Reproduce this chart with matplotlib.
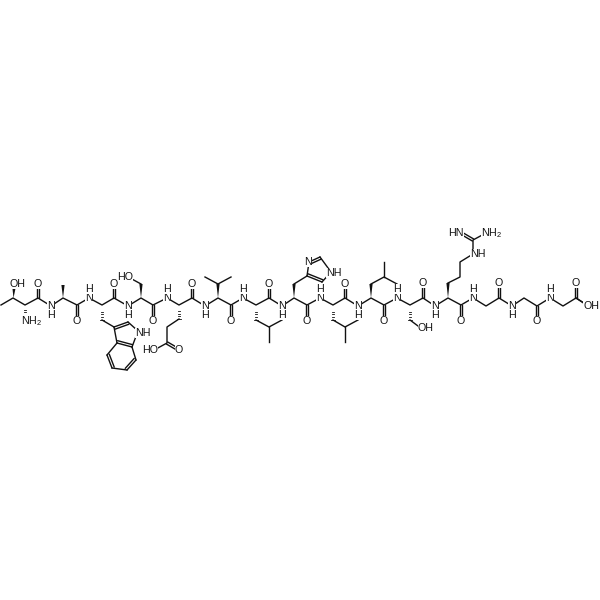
import numpy as np
import matplotlib
matplotlib.use("Agg")
import matplotlib.pyplot as plt
from matplotlib.patches import Polygon

plt.rcParams["font.family"] = ["Liberation Sans", "DejaVu Sans"]
plt.rcParams["mathtext.default"] = "regular"

# peptide backbone, left to right
BACKBONE_X = [1, 13, 25, 38, 51, 63, 77, 89, 102, 114, 128, 141, 153, 167, 179, 192,
              205, 218, 231, 243, 256, 269, 282, 294, 307, 320, 333, 345, 358, 371,
              384, 397, 410, 423, 435, 448, 461, 473, 486, 499, 512, 524, 537, 550,
              563, 576, 588]
BACKBONE_Y = [305, 298, 305, 298, 306, 298, 305, 298, 305, 298, 306, 298, 305, 298, 305, 298,
              306, 298, 305, 298, 305, 298, 306, 298, 305, 298, 305, 298, 306, 298,
              305, 298, 305, 298, 306, 298, 305, 298, 306, 298, 306, 298, 306, 298,
              306, 298, 306]

# C=O: carbon position and oxygen y
CARBONYL_X = [38, 77, 114, 153, 192, 231, 269, 307, 345, 384, 423, 461, 499, 537, 576]
CARBONYL_Y = [298, 305, 298, 305, 298, 305, 298, 305, 298, 305, 298, 305, 298, 306, 298]
OXYGEN_Y = [284, 321, 284, 321, 284, 321, 284, 321, 284, 321, 283, 321, 283, 321, 283]

# amide N labels: x, y, H above (-1) or below (+1)
AMIDE_X = [51, 89, 128, 167, 205, 243, 282, 320, 358, 397, 435, 473, 512, 550]
AMIDE_Y = [306, 298, 306, 298, 306, 298, 306, 298, 306, 298, 306, 298, 306, 298]
AMIDE_H = [1, -1, 1, -1, 1, -1, 1, -1, 1, -1, 1, -1, 1, -1]

# plain single bonds in side chains
SIDE_CHAINS = [
    [(102, 320), (114, 327)],
    [(141, 284), (130, 278)],
    [(179, 319), (167, 327), (167, 343), (156, 349)],
    [(205, 277), (218, 284), (231, 277)],
    [(282, 320), (269, 327), (256, 320)],
    [(269, 327), (269, 342)],
    [(294, 284), (307, 276)],
    [(358, 320), (345, 327), (333, 320)],
    [(345, 327), (345, 342)],
    [(371, 284), (384, 277), (397, 284)],
    [(384, 277), (384, 262)],
    [(410, 320), (418, 326)],
    [(448, 283), (460, 277), (460, 262), (473, 254), (473, 240), (486, 233)],
    [(576, 298), (584, 303)],
    # imidazole
    [(307, 276), (309, 262)],
    [(320, 257), (331, 272), (322, 282)],
    # indole
    [(114, 327), (117, 343)],
    [(128, 322), (138, 331), (132, 347)],
    [(117, 343), (107, 355)],
    [(112, 368), (127, 370)],
    [(136, 360), (132, 347)],
]

# double bonds: start, end, and which way the second line sits
DOUBLE_BONDS = [
    [(167, 343), (179, 350), 0],
    [(473, 240), (461, 233), 0],
    # imidazole
    [(309, 262), (320, 257), 1],
    [(307, 276), (322, 282), -1],
    # indole
    [(114, 327), (128, 322), 1],
    [(117, 343), (132, 347), -1],
    [(107, 355), (112, 368), -1],
    [(127, 370), (136, 360), -1],
]

WEDGES = [[(13.5, 298), (14, 288)], [(63, 298), (63, 285)], [(141, 298), (141, 284)],
          [(218, 298), (218, 284)], [(294, 298), (294, 284)], [(371, 298), (371, 284)],
          [(448, 298), (448, 283)]]
HASHES = [[(25, 305), (25, 316)], [(102, 305), (102, 320)], [(179, 305), (179, 319)],
          [(256, 305), (256, 320)], [(333, 305), (333, 320)], [(410, 305), (410, 320)]]

LABELS = [("OH", 17, 284), ("NH$_2$", 32, 321), ("HO", 125, 277), ("HO", 150, 350),
          ("O", 179, 350), ("N", 308, 262), ("NH", 334, 273), ("OH", 426, 328),
          ("NH", 478, 254), ("HN", 456, 233), ("NH$_2$", 492, 233), ("OH", 591, 306),
          ("NH", 143, 333)]

LW = 1.0
FONT = 7.7

fig = plt.figure(figsize=(6, 6), dpi=100)
ax = fig.add_axes([0, 0, 1, 1])
ax.set_xlim(0, 600)
ax.set_ylim(600, 0)
ax.axis("off")


def label(s, x, y):
    ax.text(x, y, s, ha="center", va="center", fontsize=FONT, color="#111111", zorder=5,
            bbox=dict(facecolor="white", edgecolor="none", pad=0.2))


def bond(a, b, offset=0.0):
    a, b = np.array(a, float), np.array(b, float)
    d = (b - a) / np.hypot(*(b - a))
    n = np.array([-d[1], d[0]]) * offset
    ax.plot([a[0] + n[0], b[0] + n[0]], [a[1] + n[1], b[1] + n[1]],
            color="#111111", lw=LW, solid_capstyle="round", zorder=2)


ax.plot(BACKBONE_X, BACKBONE_Y, color="#111111", lw=LW, solid_joinstyle="round", zorder=2)

for chain in SIDE_CHAINS:
    xs, ys = zip(*chain)
    ax.plot(xs, ys, color="#111111", lw=LW, solid_joinstyle="round", zorder=2)

for a, b, side in DOUBLE_BONDS:
    if side == 0:
        bond(a, b, 1.2)
        bond(a, b, -1.2)
    else:
        bond(a, b)
        bond(a, b, 2.4 * side)

for a, b in WEDGES:
    a, b = np.array(a, float), np.array(b, float)
    d = (b - a) / np.hypot(*(b - a))
    n = np.array([-d[1], d[0]]) * 1.6
    ax.add_patch(Polygon([a, b + n, b - n], closed=True, color="#111111", lw=0, zorder=3))

for a, b in HASHES:
    a, b = np.array(a, float), np.array(b, float)
    d = (b - a) / np.hypot(*(b - a))
    n = np.array([-d[1], d[0]])
    for t in np.linspace(0.08, 1, 6):
        p = a + (b - a) * t
        w = 1.8 * t
        ax.plot([p[0] - n[0] * w, p[0] + n[0] * w], [p[1] - n[1] * w, p[1] + n[1] * w],
                color="#111111", lw=0.6, zorder=3)

for s, x, y in LABELS:
    label(s, x, y)

for x, y, oy in zip(CARBONYL_X, CARBONYL_Y, OXYGEN_Y):
    bond((x, y), (x, oy), 1.2)
    bond((x, y), (x, oy), -1.2)
    label("O", x, oy)

for x, y, h in zip(AMIDE_X, AMIDE_Y, AMIDE_H):
    label("N", x, y)
    label("H", x, y + 9 * h)

fig.savefig("out.png", dpi=100, facecolor="white")
